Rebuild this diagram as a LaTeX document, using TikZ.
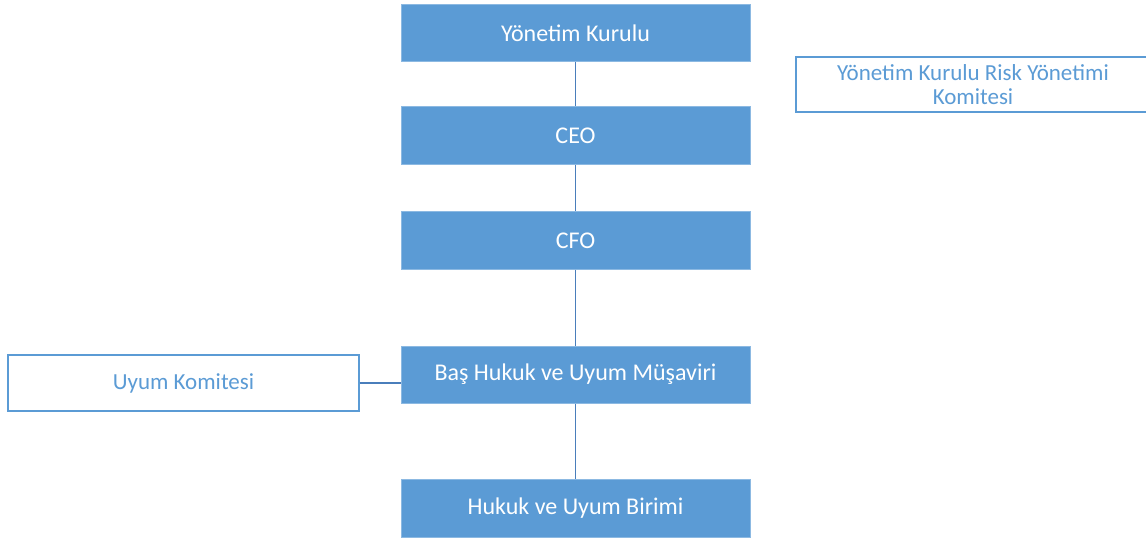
\documentclass[tikz,border=0pt]{standalone}
\usepackage{fontspec}
\setmainfont{Carlito}
\definecolor{boxblue}{HTML}{5B9BD5}
\definecolor{lineblue}{HTML}{4A7EBB}
\begin{document}
\begin{tikzpicture}[x=1pt,y=-1pt,
  bluebox/.style={draw=boxblue!70!white,line width=1pt,fill=boxblue,text=white,font=\fontsize{24}{28}\selectfont,inner sep=0pt},
  whitebox/.style={draw=boxblue,line width=1.2pt,fill=white,text=boxblue,font=\fontsize{23}{24}\selectfont,align=center,inner sep=0pt},
  conn/.style={draw=lineblue,line width=1.5pt}]
\useasboundingbox (0,0) rectangle (1146,540);
\node[bluebox,minimum width=349pt,minimum height=57pt] (yk) at (575.5,33.5) {Yönetim Kurulu};
\node[bluebox,minimum width=349pt,minimum height=58pt] (ceo) at (575.5,136) {CEO};
\node[bluebox,minimum width=349pt,minimum height=57pt] (cfo) at (575.5,240.5) {CFO};
\node[bluebox,minimum width=349pt,minimum height=57pt] (bas) at (575.5,374.5) {Baş Hukuk ve Uyum Müşaviri};
\node[bluebox,minimum width=349pt,minimum height=58pt] (hub) at (575.5,508) {Hukuk ve Uyum Birimi};
\node[whitebox,minimum width=351pt,minimum height=56pt] (uk) at (183.5,383) {Uyum Komitesi};
\node[whitebox,minimum width=354pt,minimum height=55pt] (rk) at (973,84.5) {Yönetim Kurulu Risk Yönetimi\\Komitesi};
\draw[conn] (yk.south) -- (ceo.north);
\draw[conn] (ceo.south) -- (cfo.north);
\draw[conn] (cfo.south) -- (bas.north);
\draw[conn] (bas.south) -- (hub.north);
\draw[conn] (uk.east) -- (uk.east -| bas.west);
\end{tikzpicture}
\end{document}
